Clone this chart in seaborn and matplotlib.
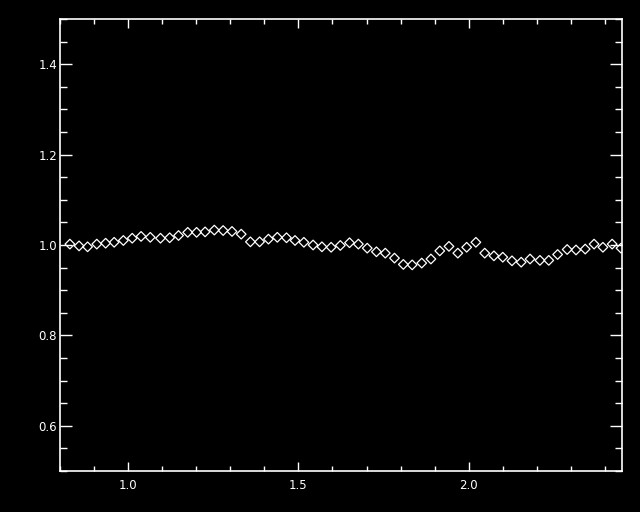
import matplotlib
matplotlib.use("Agg")
import matplotlib.pyplot as plt
import numpy as np
import pandas as pd
import seaborn as sns
from matplotlib.ticker import MultipleLocator

# values
wavelength = [
    0.829, 0.856, 0.881, 0.908, 0.934, 0.959, 0.986, 1.012, 1.038, 1.065,
    1.095, 1.122, 1.148, 1.175, 1.201, 1.226, 1.253, 1.279, 1.305, 1.332,
    1.359, 1.386, 1.412, 1.438, 1.465, 1.490, 1.516, 1.543, 1.569, 1.596,
    1.623, 1.650, 1.676, 1.702, 1.729, 1.755, 1.782, 1.808, 1.834, 1.862,
    1.889, 1.915, 1.942, 1.968, 1.994, 2.021, 2.047, 2.074, 2.100, 2.127,
    2.154, 2.180, 2.209, 2.235, 2.261, 2.289, 2.315, 2.342, 2.368, 2.394,
    2.421, 2.447,
]
ratio = [
    1.002, 0.998, 0.996, 1.002, 1.004, 1.006, 1.010, 1.015, 1.019, 1.017,
    1.015, 1.016, 1.021, 1.028, 1.028, 1.029, 1.033, 1.032, 1.030, 1.024,
    1.007, 1.007, 1.013, 1.017, 1.016, 1.010, 1.006, 1.000, 0.996, 0.995,
    0.999, 1.005, 1.002, 0.993, 0.985, 0.982, 0.971, 0.957, 0.956, 0.960,
    0.969, 0.987, 0.997, 0.982, 0.995, 1.006, 0.982, 0.976, 0.973, 0.965,
    0.962, 0.969, 0.966, 0.966, 0.979, 0.990, 0.989, 0.991, 1.002, 0.995,
    1.002, 0.993,
]
x_ticks = [1.0, 1.5, 2.0]
y_ticks = [0.6, 0.8, 1.0, 1.2, 1.4]

df = pd.DataFrame({"wavelength": wavelength, "ratio": ratio})

sns.set_style("dark", {"axes.facecolor": "black", "figure.facecolor": "black"})
plt.rcParams["font.family"] = ["DejaVu Sans"]

fig = plt.figure(figsize=(6.4, 5.12), dpi=100)
fig.patch.set_facecolor("black")
ax = fig.add_axes([60 / 640, 41 / 512, 562 / 640, 452 / 512])
ax.set_facecolor("black")

sns.scatterplot(data=df, x="wavelength", y="ratio", ax=ax, marker="D",
                s=24, facecolors="none", edgecolors="white", linewidth=0.9,
                legend=False, clip_on=True)

ax.set_xlim(0.8, 2.45)
ax.set_ylim(0.5, 1.5)
ax.set_xticks(x_ticks)
ax.set_yticks(y_ticks)
ax.set_xticklabels([f"{v:.1f}" for v in x_ticks])
ax.set_yticklabels([f"{v:.1f}" for v in y_ticks])
ax.xaxis.set_minor_locator(MultipleLocator(0.1))
ax.yaxis.set_minor_locator(MultipleLocator(0.05))
ax.set_xlabel("")
ax.set_ylabel("")
ax.grid(False)

for side in ["left", "right", "top", "bottom"]:
    ax.spines[side].set_visible(True)
    ax.spines[side].set_color("white")
    ax.spines[side].set_linewidth(1.2)

ax.tick_params(axis="both", which="both", direction="in", colors="white",
               top=True, right=True, bottom=True, left=True,
               labelsize=8.5, width=1.0)
ax.tick_params(axis="x", which="major", length=6.5, pad=6)
ax.tick_params(axis="x", which="minor", length=3.6)
ax.tick_params(axis="y", which="major", length=8.6, pad=2)
ax.tick_params(axis="y", which="minor", length=4.7)

fig.savefig("out.png", dpi=100, facecolor="black")
